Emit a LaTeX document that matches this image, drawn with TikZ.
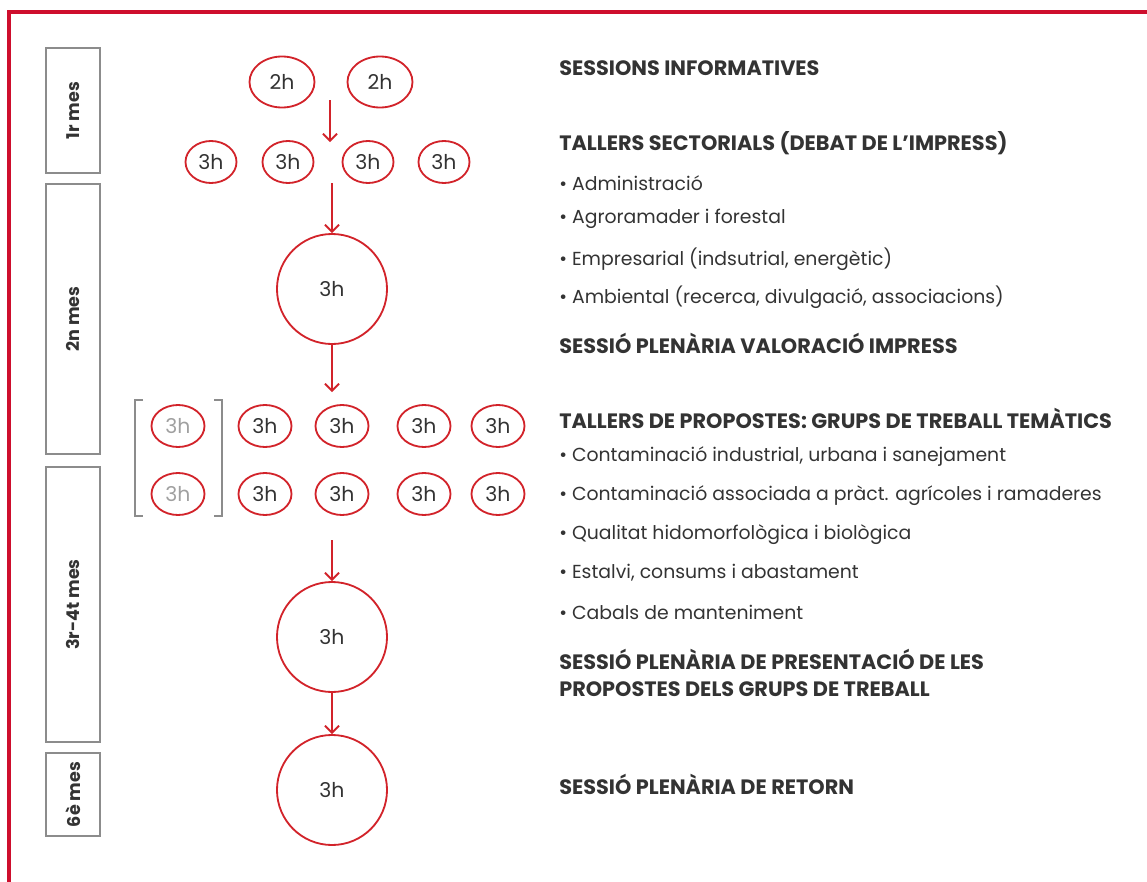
\documentclass[tikz,border=0pt]{standalone}
\usepackage{fontspec}
\setmainfont{Poppins}
\usetikzlibrary{shapes.geometric,arrows.meta}
\definecolor{framered}{HTML}{CE0E2D}
\definecolor{ringred}{HTML}{D2232A}
\definecolor{ink}{HTML}{333333}
\definecolor{boxgray}{HTML}{8C8C8C}
\definecolor{fadegray}{HTML}{A0A0A0}
\begin{document}
\begin{tikzpicture}[x=0.025cm,y=-0.025cm,>={Straight Barb[length=5pt,width=10pt]}]
      \tikzstyle{every node}=[text=ink,font=\fontsize{11pt}{13pt}\selectfont];
      \tikzstyle{month}=[draw=boxgray,line width=1.1pt,rotate=90,minimum height=1.35cm,inner sep=0pt,font=\bfseries\fontsize{12.5pt}{14pt}\selectfont];
      \tikzstyle{ring}=[draw=ringred,ellipse,line width=1.3pt,inner sep=0pt,font=\fontsize{14.5pt}{16pt}\selectfont];
      \tikzstyle{sring}=[ring,minimum width=1.275cm,minimum height=1.05cm];
      \tikzstyle{bigring}=[ring,circle,minimum size=2.75cm];
      \tikzstyle{head}=[anchor=west,inner sep=0pt,font=\bfseries\fontsize{14.8pt}{17pt}\selectfont];
      \tikzstyle{item}=[anchor=west,inner sep=0pt,font=\fontsize{13.4pt}{16pt}\selectfont];
      \useasboundingbox (0,0) rectangle (1147,882);
        % frame
        \path[draw=framered,line width=2.2pt] (1147,12) -- (9,12) -- (9,882);

        % months
        \path (73,110.5) node[month,minimum width=3.125cm] (m1) {1r mes};
        \path (73,319)   node[month,minimum width=6.75cm] (m2) {2n mes};
        \path (73,604.5) node[month,minimum width=6.875cm] (m3) {3r-4t mes};
        \path (73,794.5) node[month,minimum width=2.075cm] (m4) {6è mes};

        % sessions
        \path (282,82)  node[ring,minimum width=1.625cm,minimum height=1.275cm] (i1) {2h};
        \path (380,82)  node[ring,minimum width=1.625cm,minimum height=1.275cm] (i2) {2h};
        \path (211,162) node[sring] (s1) {3h};
        \path (288,162) node[sring] (s2) {3h};
        \path (368,162) node[sring] (s3) {3h};
        \path (444,162) node[sring] (s4) {3h};
        \path (332,289) node[bigring] (p1) {3h};
        \foreach \x/\n in {265/a,342/b,424/c,498/d}{
          \path (\x,426) node[sring,minimum width=1.325cm] (t\n) {3h};
          \path (\x,494) node[sring,minimum width=1.325cm] (u\n) {3h};
        }
        \path (178,426) node[sring,minimum width=1.325cm,text=fadegray] (tx) {3h};
        \path (178,494) node[sring,minimum width=1.325cm,text=fadegray] (ux) {3h};
        \path[draw=boxgray,line width=1pt] (143,400) -- (135,400) -- (135,516) -- (143,516);
        \path[draw=boxgray,line width=1pt] (214,400) -- (222,400) -- (222,516) -- (214,516);
        \path (332,637) node[bigring] (p2) {3h};
        \path (332,790) node[bigring] (p3) {3h};

        % arrows
        \coordinate (a1) at (330,100);
        \coordinate (b1) at (330,142);
        \coordinate (a2) at (332,183);
        \coordinate (b3) at (332,392);
        \coordinate (a4) at (332,540);
        \path[->,draw=ringred,line width=1.3pt] (a1) -- (b1);
        \path[->,draw=ringred,line width=1.3pt] (a2) -- (p1);
        \path[->,draw=ringred,line width=1.3pt] (p1) -- (b3);
        \path[->,draw=ringred,line width=1.3pt] (a4) -- (p2);
        \path[->,draw=ringred,line width=1.3pt] (p2) -- (p3);

        % descriptions
        \path (559,68)  node[head] (h1) {SESSIONS INFORMATIVES};
        \path (559,143) node[head] (h2) {TALLERS SECTORIALS (DEBAT DE L’IMPRESS)};
        \path (559,183) node[item] (e1) {• Administració};
        \path (559,219) node[item] (e2) {• Agroramader i forestal};
        \path (559,259) node[item] (e3) {• Empresarial (indsutrial, energètic)};
        \path (559,297) node[item] (e4) {• Ambiental (recerca, divulgació, associacions)};
        \path (559,343) node[head] (h3) {SESSIÓ PLENÀRIA VALORACIÓ IMPRESS};
        \path (559,418) node[head] (h4) {TALLERS DE PROPOSTES: GRUPS DE TREBALL TEMÀTICS};
        \path (559,457) node[item] (f1) {• Contaminació industrial, urbana i sanejament};
        \path (559,496) node[item] (f2) {• Contaminació associada a pràct. agrícoles i ramaderes};
        \path (559,535) node[item] (f3) {• Qualitat hidomorfològica i biològica};
        \path (559,573) node[item] (f4) {• Estalvi, consums i abastament};
        \path (559,612) node[item] (f5) {• Cabals de manteniment};
        \path (559,659) node[head] (h5) {SESSIÓ PLENÀRIA DE PRESENTACIÓ DE LES};
        \path (559,689) node[head] (h6) {PROPOSTES DELS GRUPS DE TREBALL};
        \path (559,784) node[head] (h7) {SESSIÓ PLENÀRIA DE RETORN};
    \end{tikzpicture}
\end{document}
